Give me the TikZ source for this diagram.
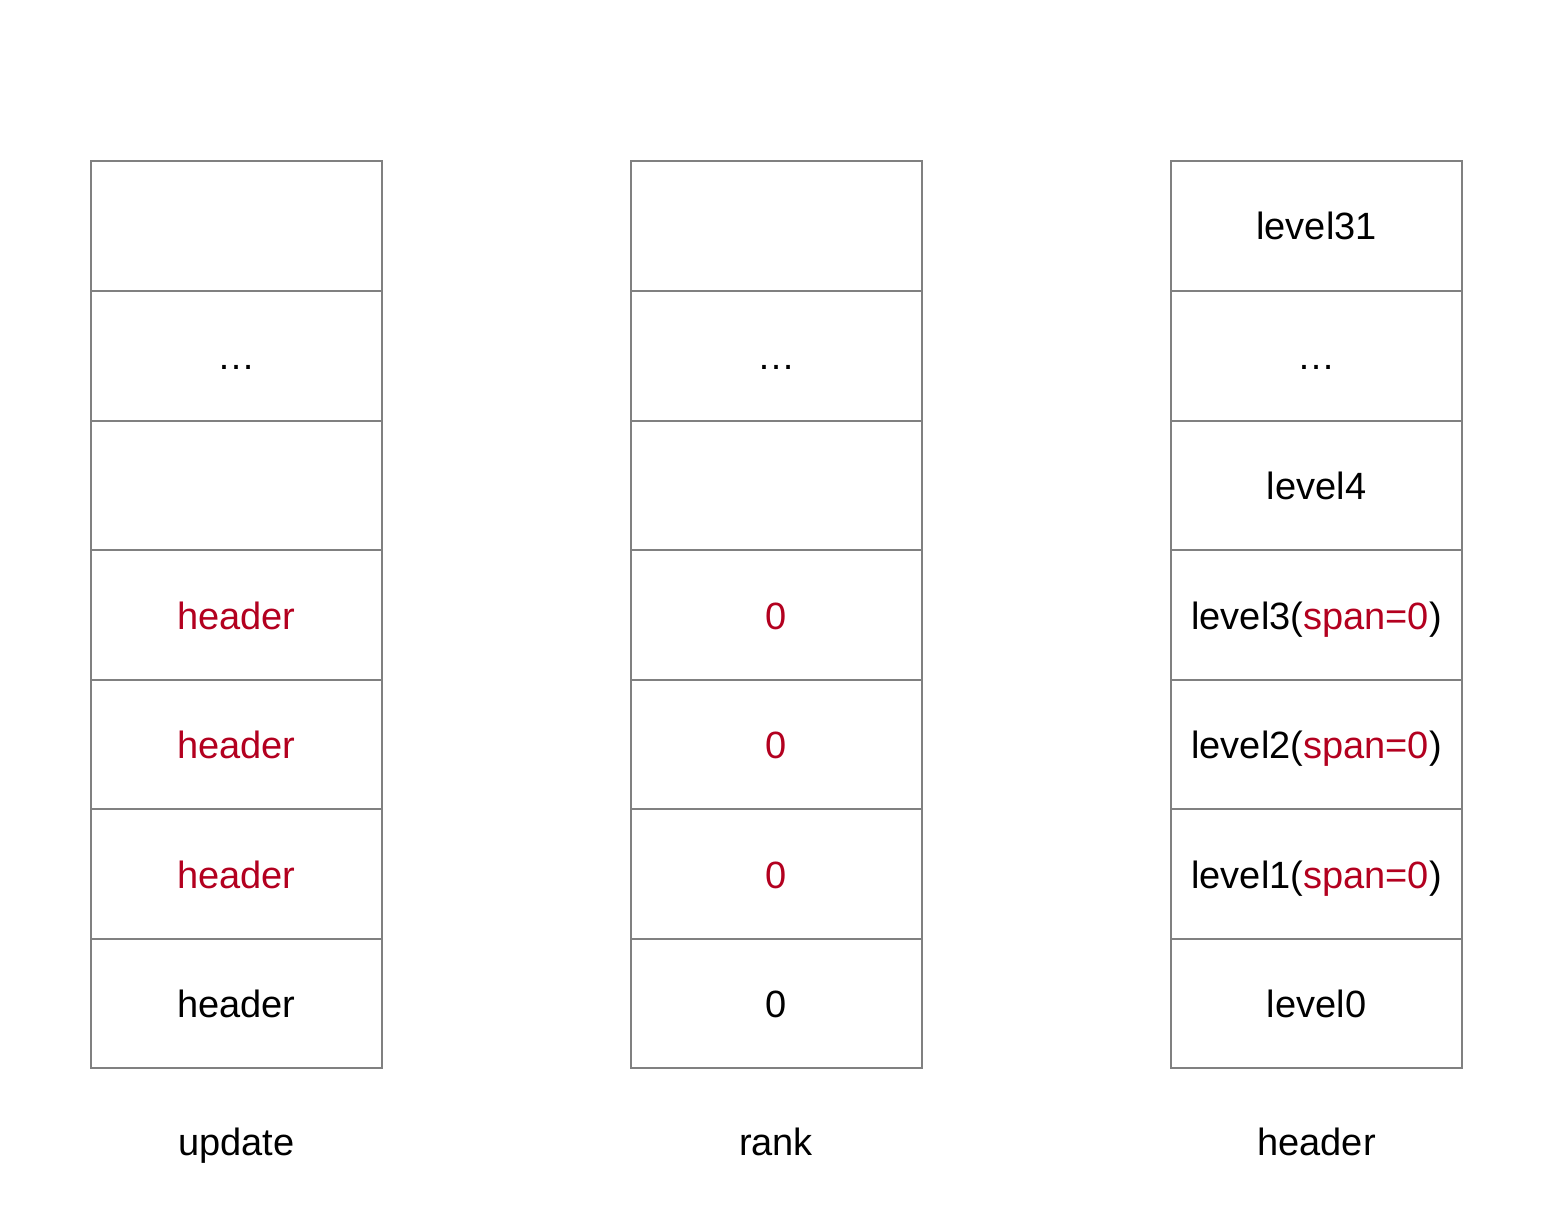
\documentclass[tikz,border=0pt]{standalone}
\usepackage{fontspec}
\setmainfont{Liberation Sans}
\definecolor{cellline}{HTML}{808080}
\definecolor{hl}{HTML}{B3001F}
\begin{document}
\begin{tikzpicture}[x=0.5pt,y=-0.5pt,
  cell/.style={draw=cellline,line width=1pt,minimum width=145.5pt,minimum height=64.75pt,inner sep=0pt},
  lbl/.style={inner sep=0pt,anchor=base,font=\fontsize{19}{22}\selectfont}]
\useasboundingbox (0,0) rectangle (1566,1224);
\newcommand{\hl}[1]{\textcolor{hl}{#1}}
\foreach \col/\cx in {u/236.5,r/776,h/1316.5}{
  \foreach \i/\cy in {1/226,2/356,3/485.5,4/615,5/744.5,6/874,7/1003.5}{
    \node[cell] (\col\i) at (\cx,\cy) {};
  }
}
\tikzset{at cell/.style={shift={(0,14)}}}
% update column
\node[lbl] at ([yshift=-7pt]u2.center) {…};
\node[lbl,text=hl] at ([yshift=-7pt]u4.center) {header};
\node[lbl,text=hl] at ([yshift=-7pt]u5.center) {header};
\node[lbl,text=hl] at ([yshift=-7pt]u6.center) {header};
\node[lbl] at ([yshift=-7pt]u7.center) {header};
% rank column
\node[lbl] at ([yshift=-7pt]r2.center) {…};
\node[lbl,text=hl] at ([yshift=-7pt]r4.center) {0};
\node[lbl,text=hl] at ([yshift=-7pt]r5.center) {0};
\node[lbl,text=hl] at ([yshift=-7pt]r6.center) {0};
\node[lbl] at ([yshift=-7pt]r7.center) {0};
% header column
\node[lbl] at ([yshift=-7pt]h1.center) {level31};
\node[lbl] at ([yshift=-7pt]h2.center) {…};
\node[lbl] at ([yshift=-7pt]h3.center) {level4};
\node[lbl] at ([yshift=-7pt]h4.center) {level3(\hl{span=0})};
\node[lbl] at ([yshift=-7pt]h5.center) {level2(\hl{span=0})};
\node[lbl] at ([yshift=-7pt]h6.center) {level1(\hl{span=0})};
\node[lbl] at ([yshift=-7pt]h7.center) {level0};
% captions
\node[lbl] (cu) at (236.5,1155) {update};
\node[lbl] (cr) at (776,1155) {rank};
\node[lbl] (ch) at (1316.5,1155) {header};
\end{tikzpicture}
\end{document}
